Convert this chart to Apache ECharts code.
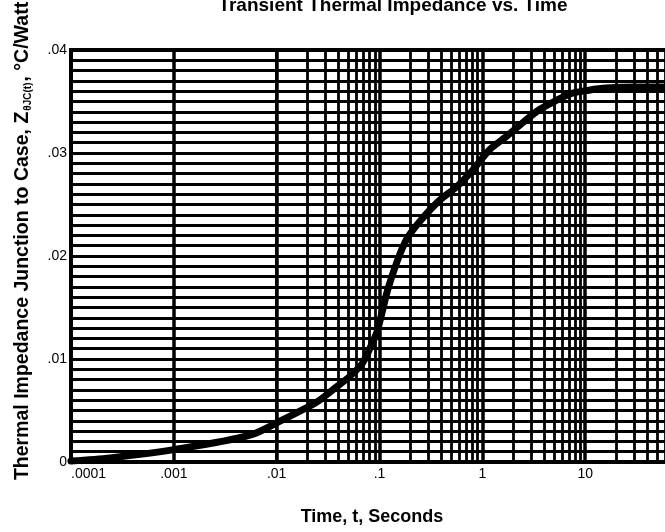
<!DOCTYPE html>
<html><head><meta charset="utf-8">
<script src="https://cdn.jsdelivr.net/npm/echarts@6/dist/echarts.min.js"></script>
<style>html,body{margin:0;padding:0;background:#fff;overflow:hidden;width:665px;height:532px}#c{width:688px;height:532px}</style>
</head><body><div id="c"></div>
<script>
// Curve (time in seconds, Z in °C/W)
const timeSec = [0.0001, 0.00024, 0.001, 0.0055, 0.0114, 0.0244, 0.035, 0.0512, 0.0684, 0.0855, 0.0957, 0.12, 0.15, 0.183, 0.244, 0.383, 0.56, 0.8, 1.17, 1.71, 2.44, 3.57, 5.22, 7.48, 10.9, 16, 30, 100];
const zThetaJC = [0.0001, 0.0004, 0.0012, 0.0026, 0.0041, 0.0058, 0.0070, 0.0083, 0.0096, 0.0116, 0.0128, 0.0167, 0.0196, 0.0216, 0.0233, 0.0254, 0.0267, 0.0283, 0.0303, 0.0316, 0.0329, 0.0342, 0.0351, 0.0358, 0.0361, 0.0363, 0.0364, 0.0364];
const xTickLabels = ['.0001', '.001', '.01', '.1', '1', '10', '100'];
const yTickLabels = ['0', '.01', '.02', '.03', '.04'];
const decades = [0.0001, 0.001, 0.01, 0.1, 1, 10];
const minorMultipliers = [2, 3, 4, 5, 6, 7, 8, 9];

const titleText = 'Transient Thermal Impedance vs. Time';
const xTitle = 'Time, t, Seconds';
const yTitle = 'Thermal Impedance Junction to Case, Z{s|θJC(t)}, °C/Watt';

const minorX = [];
decades.forEach(d => minorMultipliers.forEach(m => minorX.push(+(d * m).toPrecision(3))));

const chart = echarts.init(document.getElementById('c'), null, {renderer: 'canvas'});
const FONT = 'Liberation Sans, Arial, Helvetica, sans-serif';
chart.setOption({
  animation: false,
  backgroundColor: '#fff',
  grid: {left: 71, right: 0, top: 50, bottom: 70, outerBoundsMode: 'none', containLabel: false,
         show: true, borderColor: '#000', borderWidth: 4, backgroundColor: '#fff'},
  xAxis: {
    type: 'log', logBase: 10, min: 0.0001, max: 100,
    axisLine: {show: true, lineStyle: {color: '#000', width: 4}},
    axisTick: {show: false},
    axisLabel: {
      color: '#000', fontSize: 14, fontFamily: FONT, margin: 5, alignMinLabel: 'left',
      formatter: v => xTickLabels[Math.round(Math.log10(v)) + 4]
    },
    splitLine: {show: true, lineStyle: {color: '#000', width: 3.5}}
  },
  yAxis: {
    type: 'value', min: 0, max: 0.04, interval: 0.01,
    axisLine: {show: true, lineStyle: {color: '#000', width: 4}},
    axisTick: {show: false},
    axisLabel: {
      color: '#000', fontSize: 14, fontFamily: FONT, margin: 4,
      formatter: v => yTickLabels[Math.round(v / 0.01)]
    },
    splitLine: {show: true, lineStyle: {color: '#000', width: 2.8}},
    minorTick: {show: false, splitNumber: 10},
    minorSplitLine: {show: true, lineStyle: {color: '#000', width: 2.8}}
  },
  graphic: [
    {type: 'text', x: 393, y: 15, silent: true,
     style: {text: titleText, font: 'bold 19px ' + FONT, fill: '#000', align: 'center', verticalAlign: 'bottom'}},
    {type: 'text', x: 372, y: 517, silent: true,
     style: {text: xTitle, font: 'bold 18px ' + FONT, fill: '#000', align: 'center', verticalAlign: 'middle'}},
    {type: 'text', x: 23, y: 241, rotation: Math.PI / 2, silent: true,
     style: {text: yTitle, font: 'bold 19.5px ' + FONT, fill: '#000', align: 'center', verticalAlign: 'middle',
       rich: {s: {font: 'bold 10px ' + FONT, fill: '#000', verticalAlign: 'bottom', padding: [9, 1, 0, 1]}}}}
  ],
  series: [{
    type: 'line',
    data: timeSec.map((t, i) => [t, zThetaJC[i]]),
    smooth: 0.3,
    showSymbol: false,
    z: 10,
    lineStyle: {color: '#000', width: 7, cap: 'round'},
    markLine: {
      silent: true, symbol: 'none', z: 1, animation: false,
      label: {show: false},
      lineStyle: {color: '#000', width: 2.8, type: 'solid'},
      data: minorX.map(v => ({xAxis: v}))
    }
  }]
});
</script>
</body></html>
